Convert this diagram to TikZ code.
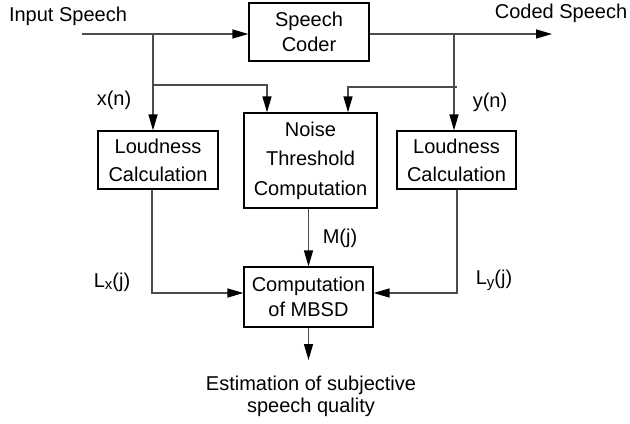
\documentclass[tikz,border=0pt]{standalone}
\usepackage{fontspec}
\setmainfont{Liberation Sans}
\usetikzlibrary{arrows.meta}

% small letter set low, as in L_x(j)
\newcommand{\lowsub}[1]{\raisebox{-0.25ex}{\fontsize{7.5}{8}\selectfont #1}}

\tikzset{
    blockbox/.style={draw=black, line width=0.6pt, align=center, inner sep=0pt},
    wire/.style={draw=black!70, line width=0.7pt},
    flow/.style={wire, -{Triangle[length=8pt, width=4.5pt, color=black]}},
    lbl/.style={inner sep=0pt}
}

\begin{document}
\begin{tikzpicture}[x=0.5pt, y=-0.5pt, font=\fontsize{10}{12}\selectfont]
    \useasboundingbox (0,0) rectangle (630,423);

    % Blocks
    \node[blockbox, minimum width=60pt, minimum height=29pt, font=\fontsize{10}{12.5}\selectfont] (coder) at (309,32) {Speech\\Coder};
    \node[blockbox, minimum width=60pt, minimum height=29pt, font=\fontsize{10}{14}\selectfont] (lcalc) at (158,160) {Loudness\\Calculation};
    \node[blockbox, minimum width=66.5pt, minimum height=47.5pt, font=\fontsize{10}{14.8}\selectfont] (noise) at (310.5,160.5) {Noise\\Threshold\\Computation};
    \node[blockbox, minimum width=59.5pt, minimum height=29pt, font=\fontsize{10}{14}\selectfont] (rcalc) at (456.5,160) {Loudness\\Calculation};
    \node[blockbox, minimum width=64.5pt, minimum height=30pt, font=\fontsize{10}{12.5}\selectfont] (mbsd) at (308.5,297) {Computation\\of MBSD};

    % Outer texts
    \node[lbl] (insp) at (68,16) {Input Speech};
    \node[lbl] (outsp) at (561,13) {Coded Speech};
    \node[lbl, align=center, font=\fontsize{10}{11}\selectfont] (quality) at (311,396) {Estimation of subjective\\speech quality};

    % Signal labels
    \node[lbl] (xn) at (114,100) {x(n)};
    \node[lbl] (yn) at (490,102) {y(n)};
    \node[lbl] (mj) at (340,238) {M(j)};
    \node[lbl] (lxj) at (112,282) {L\lowsub{x}(j)};
    \node[lbl] (lyj) at (494,280) {L\lowsub{y}(j)};

    % Branch points
    \coordinate (in) at (82,34);
    \coordinate (xa) at (153,34);
    \coordinate (xb) at (153,85);
    \coordinate (xc) at (267,85);
    \coordinate (out) at (552,34);
    \coordinate (ya) at (454,34);
    \coordinate (yb) at (457,87);
    \coordinate (yc) at (348,87);
    \coordinate (lx) at (152,293);
    \coordinate (ly) at (457,293);
    \coordinate (est) at (308.5,360);

    % Speech path
    \draw[flow] (in) -- (in -| coder.west);
    \draw[flow] (in -| coder.east) -- (out);

    % Original speech x(n)
    \draw[flow] (xa) -- (xa |- lcalc.north);
    \draw[flow] (xb) -- (xc) -- (xc |- noise.north);

    % Coded speech y(n)
    \draw[flow] (ya) -- (ya |- rcalc.north);
    \draw[flow] (yb) -- (yc) -- (yc |- noise.north);

    % Into MBSD
    \draw[flow] (lx |- lcalc.south) -- (lx) -- (lx -| mbsd.west);
    \draw[flow] (ly |- rcalc.south) -- (ly) -- (ly -| mbsd.east);
    \draw[flow] (est |- noise.south) -- (est |- mbsd.north);
    \draw[flow] (mbsd.south) -- (est);

\end{tikzpicture}
\end{document}
